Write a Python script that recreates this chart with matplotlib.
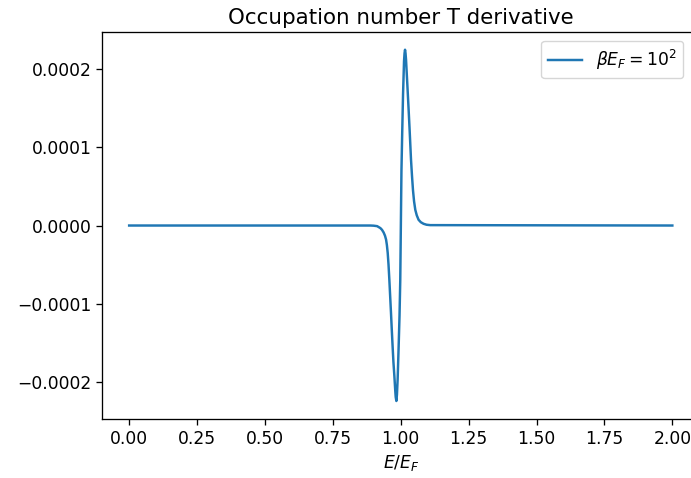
import matplotlib
matplotlib.use('Agg')
import matplotlib.pyplot as plt

# values (E/E_F, dn/dT)
e_ratio = [0.0, 0.888, 0.900, 0.913, 0.925, 0.931, 0.937, 0.942, 0.946,
           0.949, 0.952, 0.955, 0.958, 0.961, 0.964, 0.967, 0.970, 0.973,
           0.9765, 0.980, 0.9815, 0.9839, 0.986, 0.9886, 0.9923, 0.9955,
           0.9982, 1.0004, 1.0026, 1.0053, 1.0085, 1.0121, 1.014, 1.0158,
           1.0176, 1.0194, 1.0253, 1.029, 1.0327, 1.0378, 1.0415, 1.0451,
           1.049, 1.0536, 1.059, 1.0657, 1.074, 1.084, 1.095, 1.1086, 2.0]
dn_dT = [0.0, 0.0, -0.2e-6, -0.8e-6, -3.3e-6, -5.5e-6, -8.9e-6, -1.3e-5,
         -1.8e-5, -2.5e-5, -3.5e-5, -5.0e-5, -6.9e-5, -9.0e-5, -1.11e-4,
         -1.33e-4, -1.54e-4, -1.74e-4, -1.92e-4, -2.12e-4, -2.19e-4,
         -2.24e-4, -2.16e-4, -1.96e-4, -1.54e-4, -1.15e-4, -7.0e-5, 0.0,
         7.0e-5, 1.17e-4, 1.68e-4, 2.1e-4, 2.2e-4, 2.244e-4, 2.2e-4,
         2.12e-4, 1.73e-4, 1.48e-4, 1.22e-4, 8.4e-5, 6.3e-5, 4.5e-5,
         3.1e-5, 2.0e-5, 1.3e-5, 7.3e-6, 4.2e-6, 2.2e-6, 1.0e-6, 0.5e-6,
         0.0]

s = 1.18  # picture looks like default style rendered at ~118 dpi
plt.rcParams['font.size'] = 12.3
plt.rcParams['axes.linewidth'] = 0.8 * s
plt.rcParams['xtick.major.size'] = 3.5 * s
plt.rcParams['ytick.major.size'] = 3.5 * s
plt.rcParams['xtick.major.width'] = 0.8 * s
plt.rcParams['ytick.major.width'] = 0.8 * s

fig = plt.figure(figsize=(6.91, 4.78), dpi=100)
ax = fig.add_axes([0.1476, 0.1234, 0.8647, 0.8096])

ax.plot(e_ratio, dn_dT, color='#1f77b4', linewidth=1.5 * s,
        label=r'$\beta E_F = 10^2$')
ax.set_xlim(-0.1, 2.1)
ax.set_ylim(-2.47e-4, 2.47e-4)
ax.set_xticks([0, 0.25, 0.5, 0.75, 1.0, 1.25, 1.5, 1.75, 2.0])
ax.set_xticklabels(['0.00', '0.25', '0.50', '0.75', '1.00', '1.25',
                    '1.50', '1.75', '2.00'])
ax.set_yticks([-2e-4, -1e-4, 0, 1e-4, 2e-4])
ax.set_yticklabels(['\u22120.0002', '\u22120.0001', '0.0000', '0.0001',
                    '0.0002'])
ax.set_xlabel(r'$E/E_F$')
ax.set_title('Occupation number T derivative', fontsize=15.4)
ax.legend(loc='upper right', bbox_to_anchor=(0.987, 1.0))

fig.savefig('out.png', dpi=100)
